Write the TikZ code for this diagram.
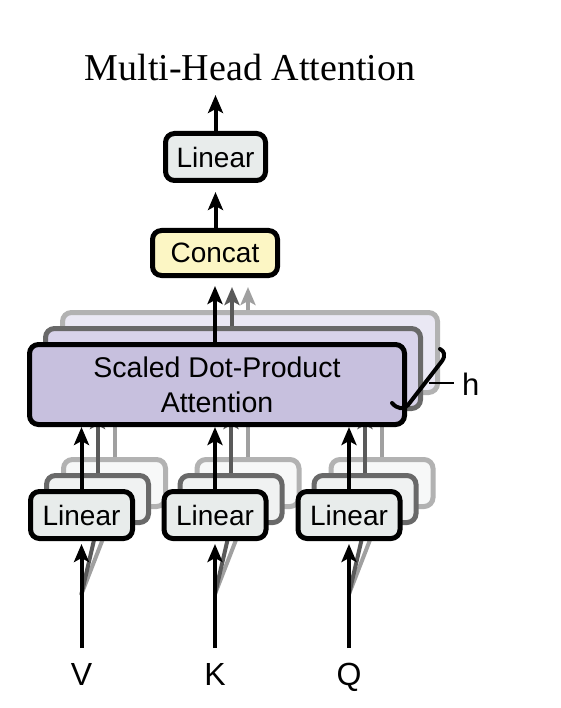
\documentclass[tikz,border=0pt]{standalone}
\usepackage{fontspec}
\setmainfont{Liberation Serif}
\newfontfamily\hsans{Liberation Sans}
\usetikzlibrary{arrows.meta}
\definecolor{linfill}{RGB}{232,236,235}
\definecolor{catfill}{RGB}{252,246,196}
\definecolor{sdpfill}{RGB}{199,192,222}
\definecolor{sdpfillb}{RGB}{216,211,234}
\definecolor{sdpfillc}{RGB}{234,232,244}
\definecolor{edgeb}{RGB}{105,105,105}
\definecolor{edgec}{RGB}{178,178,178}
\definecolor{linfillb}{RGB}{240,242,242}
\definecolor{linfillc}{RGB}{247,248,248}
\definecolor{arrb}{RGB}{90,90,90}
\definecolor{arrc}{RGB}{160,160,160}
\begin{document}
\begin{tikzpicture}[x=1pt,y=-1pt,
  box/.style={draw=black,line width=5pt,rounded corners=9pt,inner sep=0pt,
    font=\hsans\fontsize{28}{32}\selectfont},
  linbox/.style={box,fill=linfill,minimum width=102pt,minimum height=47pt},
  linboxb/.style={linbox,draw=edgeb,fill=linfillb},
  linboxc/.style={linbox,draw=edgec,fill=linfillc},
  sdpbox/.style={box,fill=sdpfill,minimum width=375pt,minimum height=80pt,align=center,
    font=\hsans\fontsize{28.5}{35}\selectfont},
  sdpboxb/.style={sdpbox,draw=edgeb,fill=sdpfillb},
  sdpboxc/.style={sdpbox,draw=edgec,fill=sdpfillc},
  arr/.style={line width=4pt,-{Stealth[length=18pt,width=15pt,inset=4pt]}},
  arrgb/.style={arr,draw=arrb},
  arrgc/.style={arr,draw=arrc},
  lbl/.style={font=\hsans\fontsize{32}{36}\selectfont,inner sep=0pt,anchor=base},
]
\useasboundingbox[fill=white] (0,0) rectangle (560,708);

% title
\node[font=\fontsize{38}{42}\selectfont,anchor=base,inner sep=0pt] (title) at (250,81) {Multi-Head Attention};

% back SDPA boxes
\node[sdpboxc] (sdc) at (250,352.5) {};
\node[sdpboxb] (sdb) at (233,368.5) {};

% concat box
\node[box,fill=catfill,minimum width=125pt,minimum height=45pt] (cat) at (215,253) {Concat};

% gray arrows to concat
\draw[arrgc,shorten >=9pt] (248,0 |- sdc.north) -- (248,0 |- cat.south);
\draw[arrgb,shorten >=9pt] (232,0 |- sdb.north) -- (232,0 |- cat.south);

% bottom back Linear boxes and gray arrows
\foreach \cx/\nm in {81.5/v,215/k,349/q}{
  \node[linboxc] (\nm lc) at (\cx+33,483) {};
  \node[linboxb] (\nm lb) at (\cx+16,499) {};
  \coordinate (\nm in) at (\cx,648);
  \coordinate (\nm fork) at (\cx,594);
  \draw[arrgc] (\nm lc.north) -- (\nm lc.north |- sdc.south);
  \draw[arrgb] (\nm lb.north) -- (\nm lb.north |- sdb.south);
  \draw[arrc,line width=4pt,line cap=round] (\nm fork) -- (\nm lc.south);
  \draw[arrb,line width=4pt,line cap=round] (\nm fork) -- (\nm lb.south);
}

% front SDPA
\node[sdpbox] (sd) at (217,384.5) {Scaled Dot-Product\\Attention};

% top linear
\node[linbox,minimum width=100pt] (top) at (215.5,157) {Linear};
\coordinate (out) at (215.5,95);

% front Linear boxes
\node[linbox] (vl) at (81.5,515) {Linear};
\node[linbox] (kl) at (215,515) {Linear};
\node[linbox] (ql) at (349,515) {Linear};

% black arrows
\draw[arr] (top.north) -- (out);
\draw[arr,shorten >=9pt] (cat.north -| top.south) -- (top.south);
\draw[arr,shorten >=8pt] (cat.south |- sd.north) -- (cat.south);
\foreach \nm in {v,k,q}{
  \draw[arr] (\nm l.north) -- (\nm l.north |- sd.south);
  \draw[arr,shorten >=3pt] (\nm in) -- (\nm l.south);
}

% labels
\node[lbl] (vlab) at (81.5,685) {V};
\node[lbl] (klab) at (215,685) {K};
\node[lbl] (qlab) at (349,685) {Q};

% h bracket
\draw[line width=4pt,line cap=round,line join=round]
  (392,403) .. controls (397,409) and (404,410) .. (408,405)
  -- (442,361) .. controls (446,355) and (444,351) .. (440,349);
\coordinate (htick) at (429,383);
\coordinate (htickend) at (454,383);
\node[font=\hsans\fontsize{31}{36}\selectfont,inner sep=0pt,anchor=base west] (hlab) at (462,395) {h};
\draw[line width=2.5pt] (htick) -- (htickend);
\end{tikzpicture}
\end{document}
